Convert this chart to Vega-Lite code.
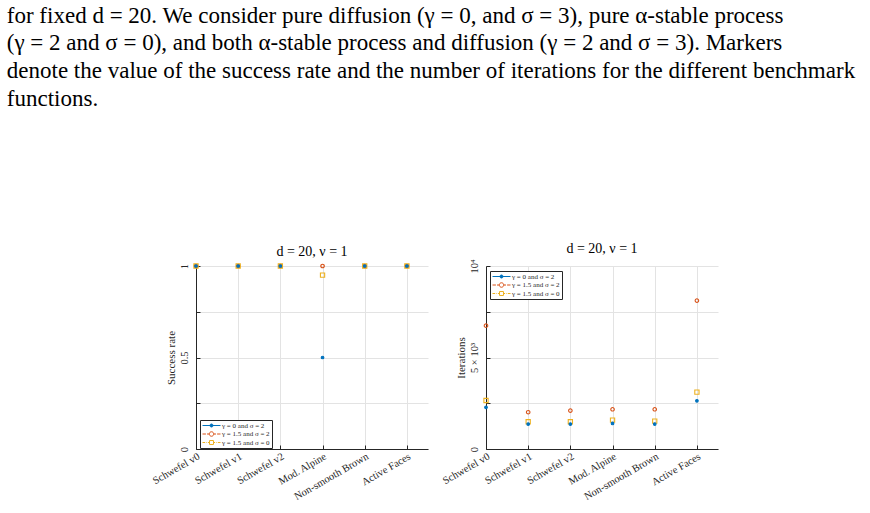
{
  "$schema": "https://vega.github.io/schema/vega-lite/v6.json",
  "background": "white",
  "padding": {"left": 6, "top": 4, "right": 4, "bottom": 4},
  "title": {
    "text": [
      "for fixed d = 20. We consider pure diffusion (γ = 0, and σ = 3), pure α-stable process",
      "(γ = 2 and σ = 0), and both α-stable process and diffusion (γ = 2 and σ = 3). Markers",
      "denote the value of the success rate and the number of iterations for the different benchmark",
      "functions."
    ],
    "anchor": "start",
    "frame": "bounds",
    "font": "Liberation Serif",
    "fontSize": 23,
    "fontWeight": "normal",
    "color": "black",
    "lineHeight": 27.8,
    "offset": 131,
    "dx": -144
  },
  "datasets": {
    "d": [
      {"x": 1, "bench": "Schwefel v0", "series": "γ = 1.5 and σ = 2", "success": 1, "iter": 6740},
      {"x": 2, "bench": "Schwefel v1", "series": "γ = 1.5 and σ = 2", "success": 1, "iter": 2010},
      {"x": 3, "bench": "Schwefel v2", "series": "γ = 1.5 and σ = 2", "success": 1, "iter": 2100},
      {"x": 4, "bench": "Mod. Alpine", "series": "γ = 1.5 and σ = 2", "success": 1, "iter": 2170},
      {"x": 5, "bench": "Non-smooth Brown", "series": "γ = 1.5 and σ = 2", "success": 1, "iter": 2170},
      {"x": 6, "bench": "Active Faces", "series": "γ = 1.5 and σ = 2", "success": 1, "iter": 8110},
      {"x": 1, "bench": "Schwefel v0", "series": "γ = 1.5 and σ = 0", "success": 1, "iter": 2650},
      {"x": 2, "bench": "Schwefel v1", "series": "γ = 1.5 and σ = 0", "success": 1, "iter": 1490},
      {"x": 3, "bench": "Schwefel v2", "series": "γ = 1.5 and σ = 0", "success": 1, "iter": 1490},
      {"x": 4, "bench": "Mod. Alpine", "series": "γ = 1.5 and σ = 0", "success": 0.95, "iter": 1580},
      {"x": 5, "bench": "Non-smooth Brown", "series": "γ = 1.5 and σ = 0", "success": 1, "iter": 1520},
      {"x": 6, "bench": "Active Faces", "series": "γ = 1.5 and σ = 0", "success": 1, "iter": 3110},
      {"x": 1, "bench": "Schwefel v0", "series": "γ = 0 and σ = 2", "success": 1, "iter": 2280},
      {"x": 2, "bench": "Schwefel v1", "series": "γ = 0 and σ = 2", "success": 1, "iter": 1360},
      {"x": 3, "bench": "Schwefel v2", "series": "γ = 0 and σ = 2", "success": 1, "iter": 1360},
      {"x": 4, "bench": "Mod. Alpine", "series": "γ = 0 and σ = 2", "success": 0.5, "iter": 1400},
      {"x": 5, "bench": "Non-smooth Brown", "series": "γ = 0 and σ = 2", "success": 1, "iter": 1360},
      {"x": 6, "bench": "Active Faces", "series": "γ = 0 and σ = 2", "success": 1, "iter": 2630}
    ]
  },
  "config": {
    "font": "Liberation Serif",
    "view": {"stroke": null},
    "axis": {
      "labelFont": "Liberation Serif",
      "titleFont": "Liberation Serif",
      "labelColor": "#262626",
      "titleColor": "#262626",
      "domainColor": "#262626",
      "tickColor": "#262626",
      "gridColor": "#e3e3e3",
      "labelFontSize": 10.5,
      "titleFontSize": 11,
      "titleFontWeight": "normal"
    },
    "legend": {
      "labelFont": "Liberation Serif",
      "labelColor": "#262626"
    }
  },
  "spacing": 12,
  "hconcat": [
    {
      "width": 232,
      "height": 183,
      "title": {"text": "d = 20, ν = 1", "font": "Liberation Serif", "fontSize": 14, "fontWeight": "normal", "color": "black", "offset": 3},
      "data": {"name": "d"},
      "encoding": {
        "x": {
          "field": "x", "type": "quantitative",
          "scale": {"domain": [1, 6.5], "nice": false, "zero": false},
          "axis": {
            "title": null, "values": [1, 2, 3, 4, 5, 6],
            "labelExpr": "['Schwefel v0','Schwefel v1','Schwefel v2','Mod. Alpine','Non-smooth Brown','Active Faces'][datum.value-1]",
            "labelAngle": -30, "labelAlign": "right", "labelBaseline": "top",
            "tickSize": -4, "labelPadding": 6, "grid": true,
            "labelOverlap": false, "labelFlush": false, "labelBound": false
          }
        },
        "y": {
          "field": "success", "type": "quantitative",
          "scale": {"domain": [0, 1], "nice": false},
          "axis": {
            "title": "Success rate", "values": [0, 0.25, 0.5, 0.75, 1],
            "labelExpr": "datum.value==0?'0':datum.value==0.5?'0.5':datum.value==1?'1':''",
            "labelAngle": -90, "labelAlign": "center", "labelBaseline": "bottom",
            "tickSize": -4, "labelPadding": 11, "titlePadding": 3, "grid": true,
            "labelOverlap": false, "labelFlush": false
          }
        }
      },
      "layer": [
        {
          "mark": {"type": "point", "strokeWidth": 1.1, "opacity": 1},
          "encoding": {
            "color": {"field": "series", "type": "nominal", "scale": {"domain": ["γ = 0 and σ = 2", "γ = 1.5 and σ = 2", "γ = 1.5 and σ = 0"], "range": ["#0072BD", "#D95319", "#EDB120"]}, "legend": null},
            "fill": {"field": "series", "type": "nominal", "scale": {"domain": ["γ = 0 and σ = 2", "γ = 1.5 and σ = 2", "γ = 1.5 and σ = 0"], "range": ["#0072BD", "transparent", "transparent"]}, "legend": null},
            "shape": {"field": "series", "type": "nominal", "scale": {"domain": ["γ = 0 and σ = 2", "γ = 1.5 and σ = 2", "γ = 1.5 and σ = 0"], "range": ["circle", "circle", "square"]}, "legend": null},
            "size": {"field": "series", "type": "nominal", "scale": {"domain": ["γ = 0 and σ = 2", "γ = 1.5 and σ = 2", "γ = 1.5 and σ = 0"], "range": [7, 18, 15]}, "legend": null}
          }
        },
        {
          "mark": {"type": "point", "opacity": 0, "strokeWidth": 1},
          "encoding": {
            "color": {"field": "series", "type": "nominal", "scale": {"domain": ["γ = 0 and σ = 2", "γ = 1.5 and σ = 2", "γ = 1.5 and σ = 0"], "range": ["#0072BD", "#D95319", "#EDB120"]},
              "legend": {"orient": "none", "legendX": 4, "legendY": 154, "title": null, "labelFontSize": 7, "strokeColor": "#262626", "fillColor": "white", "padding": 2, "rowPadding": 0.5, "symbolSize": 324, "clipHeight": 7, "symbolStrokeWidth": 1, "symbolOpacity": 1, "labelOffset": 1}},
            "fill": {"field": "series", "type": "nominal", "scale": {"domain": ["γ = 0 and σ = 2", "γ = 1.5 and σ = 2", "γ = 1.5 and σ = 0"], "range": ["#0072BD", "transparent", "transparent"]},
              "legend": {"orient": "none", "legendX": 4, "legendY": 154, "title": null, "symbolSize": 324, "clipHeight": 7, "symbolOpacity": 1}},
            "shape": {"field": "series", "type": "nominal", "scale": {"domain": ["γ = 0 and σ = 2", "γ = 1.5 and σ = 2", "γ = 1.5 and σ = 0"], "range": [
              "M-1,0H1M0.17,0A0.17,0.17 0 1,1 -0.17,0A0.17,0.17 0 1,1 0.17,0Z",
              "M-1,0H-0.62M-0.5,0H-0.28M0.28,0H0.5M0.62,0H1M0.25,0A0.25,0.25 0 1,1 -0.25,0A0.25,0.25 0 1,1 0.25,0Z",
              "M-1,0H-0.7M-0.58,0H-0.52M-0.4,0H-0.26M0.26,0H0.4M0.52,0H0.58M0.7,0H1M-0.22,-0.22H0.22V0.22H-0.22Z"
            ]},
              "legend": {"orient": "none", "legendX": 4, "legendY": 154, "title": null, "symbolSize": 324, "clipHeight": 7, "symbolOpacity": 1}}
          }
        }
      ],
      "resolve": {"scale": {"color": "independent", "fill": "independent", "shape": "independent", "size": "independent"}}
    },
    {
      "width": 232,
      "height": 183,
      "title": {"text": "d = 20, ν = 1", "font": "Liberation Serif", "fontSize": 14, "fontWeight": "normal", "color": "black", "offset": 3},
      "data": {"name": "d"},
      "encoding": {
        "x": {
          "field": "x", "type": "quantitative",
          "scale": {"domain": [1, 6.5], "nice": false, "zero": false},
          "axis": {
            "title": null, "values": [1, 2, 3, 4, 5, 6],
            "labelExpr": "['Schwefel v0','Schwefel v1','Schwefel v2','Mod. Alpine','Non-smooth Brown','Active Faces'][datum.value-1]",
            "labelAngle": -30, "labelAlign": "right", "labelBaseline": "top",
            "tickSize": -4, "labelPadding": 6, "grid": true,
            "labelOverlap": false, "labelFlush": false, "labelBound": false
          }
        },
        "y": {
          "field": "iter", "type": "quantitative",
          "scale": {"domain": [0, 10000], "nice": false},
          "axis": {
            "title": "Iterations", "values": [0, 2500, 5000, 7500, 10000],
            "labelExpr": "datum.value==0?'0':datum.value==5000?'5 × 10³':datum.value==10000?'10⁴':''",
            "labelAngle": -90, "labelAlign": "center", "labelBaseline": "bottom",
            "tickSize": -4, "labelPadding": 11, "titlePadding": 3, "grid": true,
            "labelOverlap": false, "labelFlush": false
          }
        }
      },
      "layer": [
        {
          "mark": {"type": "point", "strokeWidth": 1.1, "opacity": 1},
          "encoding": {
            "color": {"field": "series", "type": "nominal", "scale": {"domain": ["γ = 0 and σ = 2", "γ = 1.5 and σ = 2", "γ = 1.5 and σ = 0"], "range": ["#0072BD", "#D95319", "#EDB120"]}, "legend": null},
            "fill": {"field": "series", "type": "nominal", "scale": {"domain": ["γ = 0 and σ = 2", "γ = 1.5 and σ = 2", "γ = 1.5 and σ = 0"], "range": ["#0072BD", "transparent", "transparent"]}, "legend": null},
            "shape": {"field": "series", "type": "nominal", "scale": {"domain": ["γ = 0 and σ = 2", "γ = 1.5 and σ = 2", "γ = 1.5 and σ = 0"], "range": ["circle", "circle", "square"]}, "legend": null},
            "size": {"field": "series", "type": "nominal", "scale": {"domain": ["γ = 0 and σ = 2", "γ = 1.5 and σ = 2", "γ = 1.5 and σ = 0"], "range": [7, 18, 15]}, "legend": null}
          }
        },
        {
          "mark": {"type": "point", "opacity": 0, "strokeWidth": 1},
          "encoding": {
            "color": {"field": "series", "type": "nominal", "scale": {"domain": ["γ = 0 and σ = 2", "γ = 1.5 and σ = 2", "γ = 1.5 and σ = 0"], "range": ["#0072BD", "#D95319", "#EDB120"]},
              "legend": {"orient": "none", "legendX": 4, "legendY": 5, "title": null, "labelFontSize": 7, "strokeColor": "#262626", "fillColor": "white", "padding": 2, "rowPadding": 0.5, "symbolSize": 324, "clipHeight": 7, "symbolStrokeWidth": 1, "symbolOpacity": 1, "labelOffset": 1}},
            "fill": {"field": "series", "type": "nominal", "scale": {"domain": ["γ = 0 and σ = 2", "γ = 1.5 and σ = 2", "γ = 1.5 and σ = 0"], "range": ["#0072BD", "transparent", "transparent"]},
              "legend": {"orient": "none", "legendX": 4, "legendY": 5, "title": null, "symbolSize": 324, "clipHeight": 7, "symbolOpacity": 1}},
            "shape": {"field": "series", "type": "nominal", "scale": {"domain": ["γ = 0 and σ = 2", "γ = 1.5 and σ = 2", "γ = 1.5 and σ = 0"], "range": [
              "M-1,0H1M0.17,0A0.17,0.17 0 1,1 -0.17,0A0.17,0.17 0 1,1 0.17,0Z",
              "M-1,0H-0.62M-0.5,0H-0.28M0.28,0H0.5M0.62,0H1M0.25,0A0.25,0.25 0 1,1 -0.25,0A0.25,0.25 0 1,1 0.25,0Z",
              "M-1,0H-0.7M-0.58,0H-0.52M-0.4,0H-0.26M0.26,0H0.4M0.52,0H0.58M0.7,0H1M-0.22,-0.22H0.22V0.22H-0.22Z"
            ]},
              "legend": {"orient": "none", "legendX": 4, "legendY": 5, "title": null, "symbolSize": 324, "clipHeight": 7, "symbolOpacity": 1}}
          }
        }
      ],
      "resolve": {"scale": {"color": "independent", "fill": "independent", "shape": "independent", "size": "independent"}}
    }
  ],
  "resolve": {
    "scale": {"color": "independent", "fill": "independent", "shape": "independent", "size": "independent"},
    "legend": {"color": "independent", "fill": "independent", "shape": "independent", "size": "independent"}
  }
}
